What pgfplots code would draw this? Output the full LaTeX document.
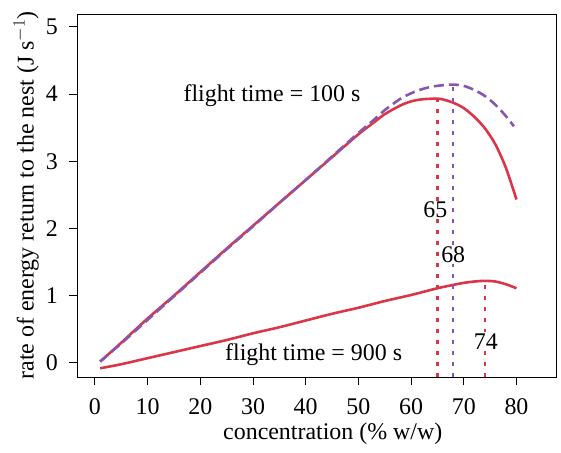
\documentclass[border=0pt]{standalone}
\usepackage{pgfplots}
\pgfplotsset{compat=1.18}
\usepackage{fontspec}
\setmainfont{Liberation Serif}
\definecolor{cred}{RGB}{218,54,72}
\definecolor{cpurple}{RGB}{136,86,178}
\newcommand{\bigfont}{\fontsize{24}{28}\selectfont}
\begin{document}
\bigfont
\begin{tikzpicture}
\begin{axis}[
    name=ax,
    scale only axis,
    width=479bp, height=363bp,
    xmin=-3.4, xmax=87.5,
    ymin=-0.21, ymax=5.19,
    xtick={0,10,20,30,40,50,60,70,80},
    ytick={0,1,2,3,4,5},
    tick pos=left,
    tick align=outside,
    major tick length=8bp,
    tick style={black, line width=0.9bp},
    axis line style={line width=0.9bp},
    /pgf/number format/assume math mode=true,
    ticklabel style={font=\bigfont},
    xticklabel style={yshift=-5bp},
    yticklabel style={xshift=-3bp},
    label style={font=\bigfont},
    xlabel={concentration (\% w/w)},
    ylabel={rate of energy return to the nest (J s$^{-1}$)},
    xlabel style={at={(axis description cs:0.534,0)}, anchor=north, yshift=-38bp},
    ylabel style={at={(axis description cs:0,0.5)}, anchor=south, yshift=30bp},
]
% flight time = 100 s, red
\addplot[cred, line width=2.6bp, smooth] coordinates {
(1,0.02)(5,0.30)(10,0.66)(15,1.00)(20,1.35)(25,1.70)(30,2.04)(35,2.38)(40,2.72)(45,3.06)(50,3.40)(53,3.58)(55,3.70)(58,3.83)(60,3.89)(62,3.92)(64,3.93)(65,3.93)(66,3.92)(68,3.87)(70,3.79)(72,3.66)(74,3.49)(76,3.25)(78,2.90)(80,2.43)
};
% flight time = 100 s, purple dashed
\addplot[cpurple, line width=2.6bp, dash pattern=on 10bp off 5bp, smooth] coordinates {
(1,0.02)(5,0.29)(10,0.64)(15,0.99)(20,1.34)(25,1.69)(30,2.03)(35,2.38)(40,2.72)(45,3.07)(50,3.42)(53,3.62)(55,3.76)(58,3.93)(60,4.01)(62,4.07)(64,4.11)(66,4.13)(68,4.14)(70,4.12)(72,4.06)(74,3.97)(76,3.84)(78,3.67)(79.5,3.52)
};
% flight time = 900 s, red
\addplot[cred, line width=2.6bp, smooth] coordinates {
(1,-0.08)(5,-0.02)(10,0.07)(15,0.16)(20,0.25)(25,0.34)(30,0.44)(35,0.53)(40,0.63)(45,0.73)(50,0.82)(55,0.92)(60,1.01)(65,1.11)(68,1.16)(70,1.19)(72,1.21)(74,1.22)(76,1.21)(78,1.17)(80,1.11)
};
% optima
\addplot[cred, line width=2.4bp, dash pattern=on 4bp off 7bp] coordinates {(65,-0.21)(65,3.93)};
\addplot[cpurple, line width=2.4bp, dash pattern=on 4bp off 7bp] coordinates {(68,-0.21)(68,4.14)};
\addplot[cred, line width=2.4bp, dash pattern=on 4bp off 7bp] coordinates {(74,-0.21)(74,1.22)};
\node[fill=white, inner sep=1bp] at (axis cs:64.6,2.28) {65};
\node[fill=white, inner sep=1bp] at (axis cs:68,1.61) {68};
\node[fill=white, inner sep=1bp] at (axis cs:74.2,0.32) {74};
\node at (axis cs:33.6,3.97) {flight time = 100 s};
\node at (axis cs:41.5,0.12) {flight time = 900 s};
\end{axis}
\path (ax.south west) ++(-77bp,-68bp);
\path (ax.north east) ++(5bp,14bp);
\end{tikzpicture}
\end{document}
